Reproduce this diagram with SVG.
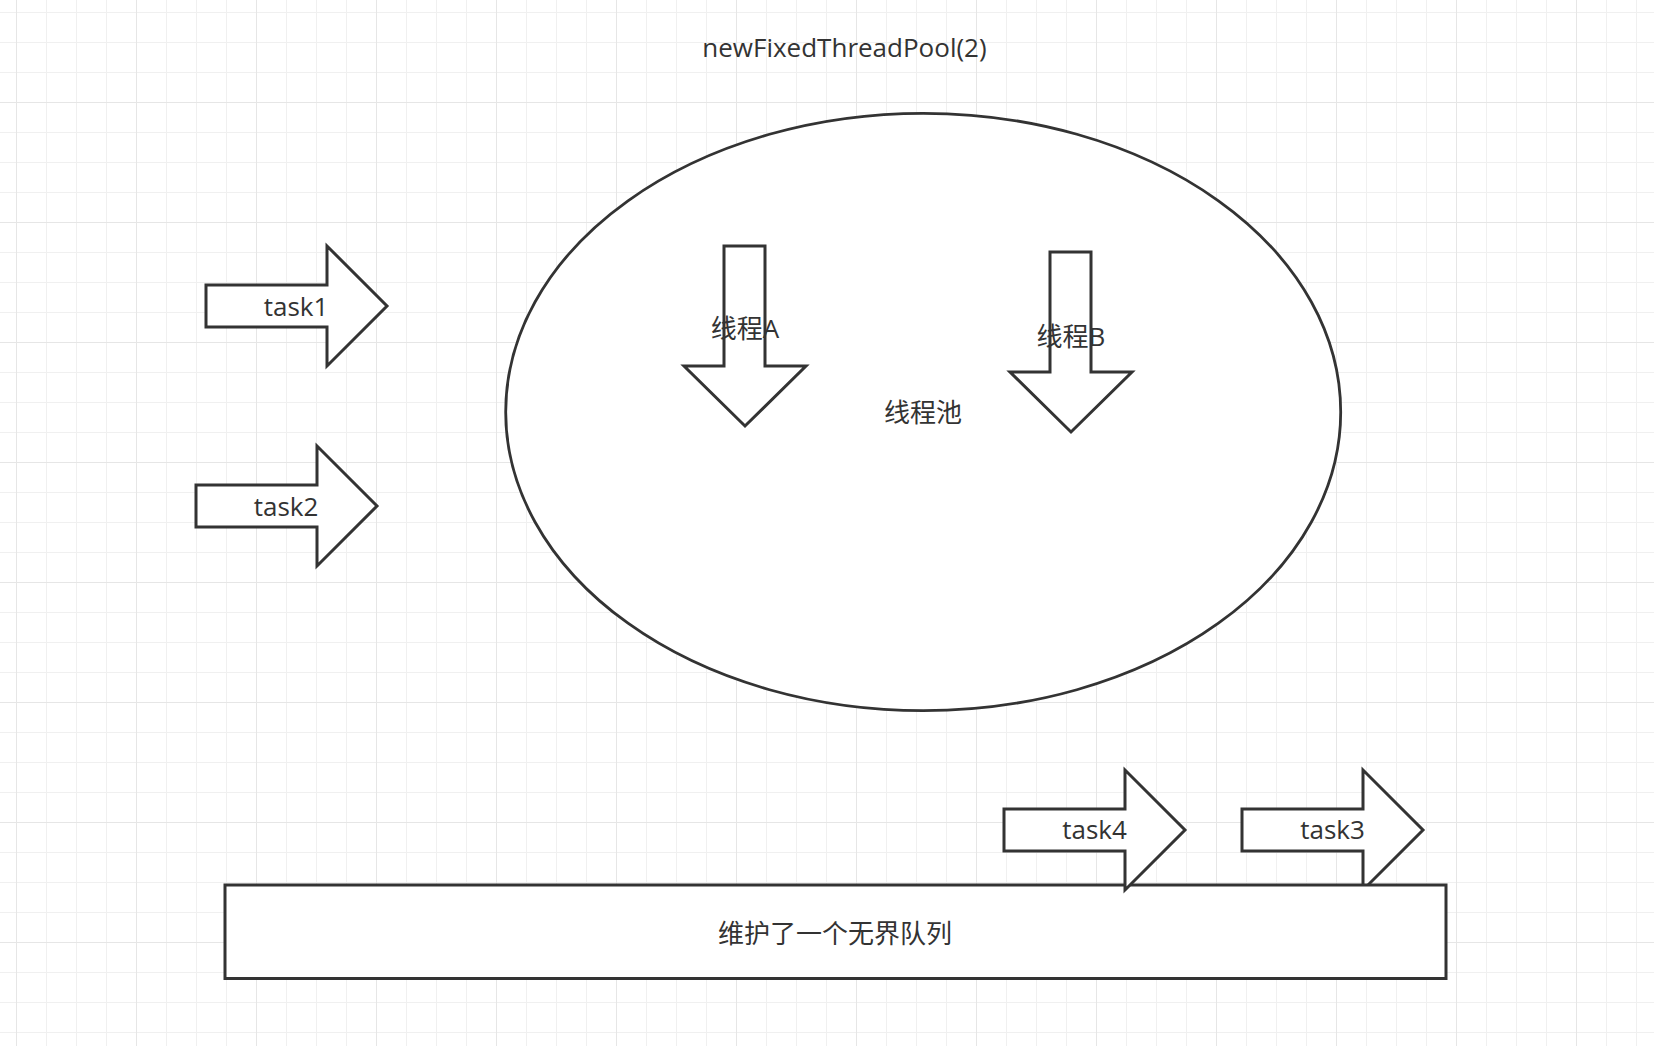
<svg xmlns="http://www.w3.org/2000/svg" width="1654" height="1046" viewBox="0 0 1654 1046">
  <style>
    .shape { fill: #ffffff; stroke: #333333; stroke-width: 3; stroke-linejoin: miter; }
    .ell { fill: #ffffff; stroke: #333333; stroke-width: 2.8; }
    .lbl { font-family: "Open Sans", "Noto Sans CJK SC", sans-serif; font-size: 26px; fill: #333333; text-anchor: middle; }
  </style>
  <defs>
    <pattern id="grid" patternUnits="userSpaceOnUse" x="16" y="-18" width="120" height="120">
      <rect x="0" y="0" width="120" height="120" fill="#ffffff"/>
      <rect x="30" y="0" width="1" height="120" fill="#f0f0f0"/>
      <rect x="60" y="0" width="1" height="120" fill="#f0f0f0"/>
      <rect x="90" y="0" width="1" height="120" fill="#f0f0f0"/>
      <rect x="0" y="30" width="120" height="1" fill="#f0f0f0"/>
      <rect x="0" y="60" width="120" height="1" fill="#f0f0f0"/>
      <rect x="0" y="90" width="120" height="1" fill="#f0f0f0"/>
      <rect x="0" y="0" width="1" height="120" fill="#e6e6e6"/>
      <rect x="0" y="0" width="120" height="1" fill="#e6e6e6"/>
    </pattern>
  </defs>
  <rect x="0" y="0" width="1654" height="1046" fill="url(#grid)"/>

  <g id="title">
    <text class="lbl" x="844.5" y="57">newFixedThreadPool(2)</text>
  </g>

  <g id="pool">
    <ellipse class="ell" cx="923.2" cy="412" rx="417.5" ry="298.7"/>
    <text class="lbl" x="923" y="422">线程池</text>
  </g>

  <g id="threadA">
    <polygon class="shape" transform="translate(684,246)" points="40,0 81,0 81,120 122,120 61,180 0,120 40,120"/>
    <text class="lbl" x="745" y="338">线程A</text>
  </g>

  <g id="threadB">
    <polygon class="shape" transform="translate(1010,252)" points="40,0 81,0 81,120 122,120 61,180 0,120 40,120"/>
    <text class="lbl" x="1071" y="346">线程B</text>
  </g>

  <g id="task1">
    <polygon class="shape" transform="translate(206,246)" points="0,39 121,39 121,0 181,60 121,120 121,81 0,81"/>
    <text class="lbl" x="296" y="316">task1</text>
  </g>

  <g id="task2">
    <polygon class="shape" transform="translate(196,446)" points="0,39 121,39 121,0 181,60 121,120 121,81 0,81"/>
    <text class="lbl" x="286" y="516">task2</text>
  </g>

  <g id="task3">
    <polygon class="shape" transform="translate(1242,770)" points="0,39 121,39 121,0 181,60 121,120 121,81 0,81"/>
    <text class="lbl" x="1332.5" y="839">task3</text>
  </g>

  <g id="queue">
    <rect class="shape" x="225" y="885" width="1221" height="93.5"/>
    <text class="lbl" x="835" y="943">维护了一个无界队列</text>
  </g>

  <g id="task4">
    <polygon class="shape" transform="translate(1004,770)" points="0,39 121,39 121,0 181,60 121,120 121,81 0,81"/>
    <text class="lbl" x="1094.5" y="839">task4</text>
  </g>

  <g id="connectors"/>
</svg>
